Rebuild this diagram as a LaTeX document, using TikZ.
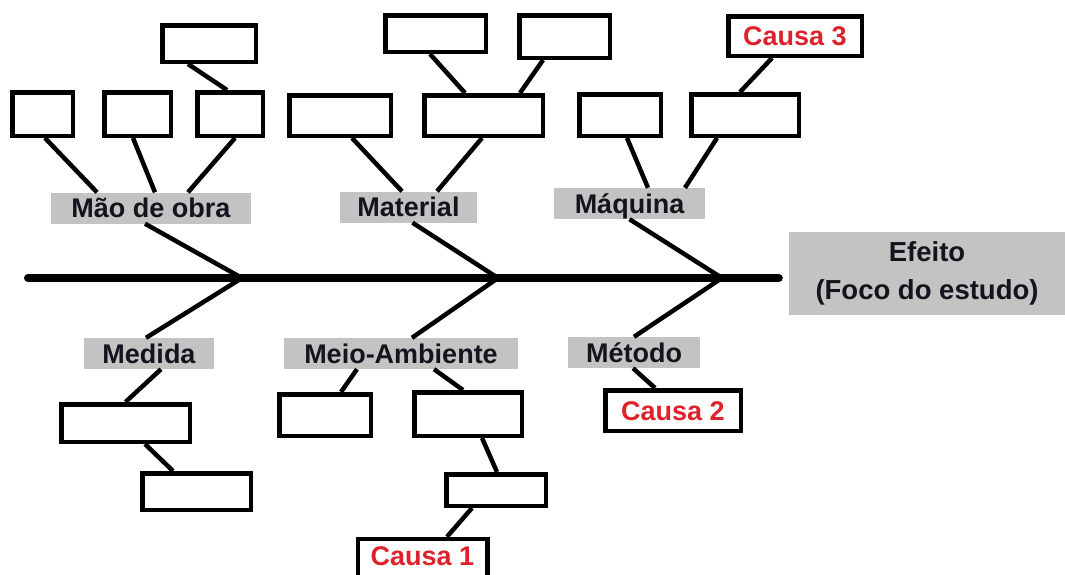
\documentclass[tikz,border=0pt]{standalone}
\usepackage{fontspec}
\setmainfont{Liberation Sans}
\definecolor{cinza}{RGB}{195,195,195}
\definecolor{vermelho}{RGB}{222,34,44}
\definecolor{tinta}{RGB}{20,20,28}

\begin{document}
\begin{tikzpicture}[x=1pt,y=-1pt,
    caixa/.style={draw=black,line width=4.5pt,fill=white,inner sep=0pt},
    causa/.style={caixa,text=vermelho,font=\fontsize{27}{30}\selectfont\bfseries,
      text height=19pt,text depth=0pt},
    rotulo/.style={fill=cinza,inner sep=0pt,minimum height=31pt,text=tinta,
      font=\fontsize{27}{30}\selectfont\bfseries,text height=19pt,text depth=0pt},
    osso/.style={line width=4.5pt,black}]
    \clip (0,0) rectangle (1065,574);
    % efeito e espinha
    \node[fill=cinza,inner sep=0pt,minimum width=276pt,minimum height=83pt,align=center,
      text=tinta,font=\fontsize{27.5}{38}\selectfont\bfseries] (efeito) at (927,273.5)
      {Efeito\\(Foco do estudo)};
    \coordinate (cauda) at (28,278);
    \coordinate (j1) at (242,278);
    \coordinate (j2) at (498,278);
    \coordinate (j3) at (722,278);
    \draw[line width=8pt,line cap=round,shorten >=10pt] (cauda) -- (cauda -| efeito.west);
    % categorias
    \node[rotulo,minimum width=200pt] (mao) at (151,208) {Mão de obra};
    \node[rotulo,minimum width=137pt] (mat) at (408.5,207) {Material};
    \node[rotulo,minimum width=151pt] (maq) at (629.5,203.5) {Máquina};
    \node[rotulo,minimum width=130pt] (med) at (149,353.5) {Medida};
    \node[rotulo,minimum width=234pt] (meio) at (401,353.5) {Meio-Ambiente};
    \node[rotulo,minimum width=132pt] (met) at (634,352.5) {Método};
    \draw[osso] ([xshift=-6pt]mao.south) -- (j1) -- ([xshift=-3pt]med.north);
    \draw[osso] ([xshift=4pt]mat.south) -- (j2) -- ([xshift=11pt]meio.north);
    \draw[osso] (maq.south) -- (j3) -- (met.north);
    % mao de obra
    \node[caixa,minimum width=93.5pt,minimum height=36.5pt] (mo0) at (209,43.5) {};
    \node[caixa,minimum width=60.5pt,minimum height=43.5pt] (mo1) at (42.5,114) {};
    \node[caixa,minimum width=66.5pt,minimum height=43.5pt] (mo2) at (137.5,114) {};
    \node[caixa,minimum width=65.5pt,minimum height=43.5pt] (mo3) at (230,114) {};
    \draw[osso] ([xshift=-21pt]mo0.south) -- ([xshift=-3pt]mo3.north);
    \draw[osso] ([xshift=2.5pt]mo1.south) -- ([xshift=-54pt]mao.north);
    \draw[osso] ([xshift=-4.5pt]mo2.south) -- ([xshift=4pt]mao.north);
    \draw[osso] ([xshift=5pt]mo3.south) -- ([xshift=37pt]mao.north);
    % material
    \node[caixa,minimum width=101.5pt,minimum height=40.5pt] (ma1) at (340,115.5) {};
    \node[caixa,minimum width=118.5pt,minimum height=40.5pt] (ma2) at (483.5,115.5) {};
    \node[caixa,minimum width=100.5pt,minimum height=36.5pt] (ma3) at (435.5,33.5) {};
    \node[caixa,minimum width=90.5pt,minimum height=42.5pt] (ma4) at (564.5,36.5) {};
    \draw[osso] ([xshift=-5.5pt]ma3.south) -- ([xshift=-18.5pt]ma2.north);
    \draw[osso] ([xshift=-21.5pt]ma4.south) -- ([xshift=36.5pt]ma2.north);
    \draw[osso] ([xshift=12pt]ma1.south) -- ([xshift=-6.5pt]mat.north);
    \draw[osso] ([xshift=-1.5pt]ma2.south) -- ([xshift=28.5pt]mat.north);
    % maquina
    \node[caixa,minimum width=81.5pt,minimum height=41.5pt] (mq1) at (620,115) {};
    \node[caixa,minimum width=107.5pt,minimum height=41.5pt] (mq2) at (745,115) {};
    \node[causa,minimum width=133.5pt,minimum height=39.5pt] (c3) at (795,36) {Causa 3};
    \draw[osso] ([xshift=-23pt]c3.south) -- ([xshift=-5pt]mq2.north);
    \draw[osso] ([xshift=7pt]mq1.south) -- ([xshift=18.5pt]maq.north);
    \draw[osso] ([xshift=-28pt]mq2.south) -- ([xshift=55.5pt]maq.north);
    % medida
    \node[caixa,minimum width=128.5pt,minimum height=37.5pt] (me1) at (125.5,423) {};
    \node[caixa,minimum width=108.5pt,minimum height=36.5pt] (me2) at (196.5,491.5) {};
    \draw[osso] ([xshift=12pt]med.south) -- (me1.north);
    \draw[osso] ([xshift=19.5pt]me1.south) -- ([xshift=-23.5pt]me2.north);
    % meio-ambiente
    \node[caixa,minimum width=91.5pt,minimum height=41.5pt] (ma5) at (325,415) {};
    \node[caixa,minimum width=107.5pt,minimum height=43.5pt] (ma6) at (468,414) {};
    \node[caixa,minimum width=99.5pt,minimum height=31.5pt] (ma7) at (496,490) {};
    \node[causa,minimum width=129.5pt,minimum height=50pt,text depth=17pt] (c1) at (422.5,564) {Causa 1};
    \draw[osso] ([xshift=-44pt]meio.south) -- ([xshift=16pt]ma5.north);
    \draw[osso] ([xshift=33pt]meio.south) -- ([xshift=-5pt]ma6.north);
    \draw[osso] ([xshift=14pt]ma6.south) -- ([xshift=1pt]ma7.north);
    \draw[osso] ([xshift=-24pt]ma7.south) -- ([xshift=24.5pt]c1.north);
    % metodo
    \node[causa,minimum width=135.5pt,minimum height=40.5pt] (c2) at (673,410.5) {Causa 2};
    \draw[osso] ([xshift=-1pt]met.south) -- ([xshift=-18pt]c2.north);
\end{tikzpicture}
\end{document}
